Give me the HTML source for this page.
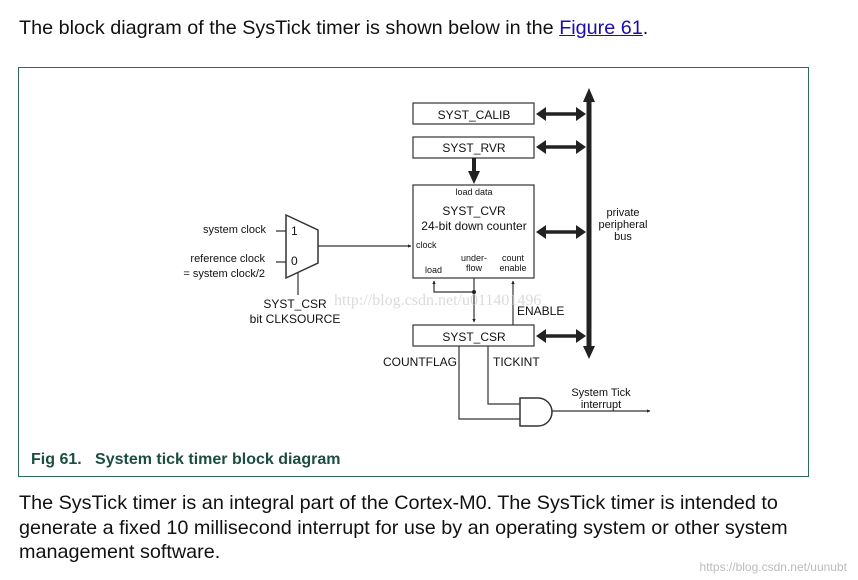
<!DOCTYPE html><html><head><style>
body{margin:0;background:#fff;width:858px;height:580px;overflow:hidden;font-family:"Liberation Sans",sans-serif;}
.t{position:absolute;font-size:19.8px;color:#111;white-space:nowrap;}
</style></head><body>
<div class="t" style="left:19px;top:17px;">The block diagram of the SysTick timer is shown below in the <span style="color:#1a0dab;text-decoration:underline">Figure 61</span>.</div>
<svg width="858" height="580" style="position:absolute;left:0;top:0" font-family="Liberation Sans, sans-serif">
<defs>
<marker id="s" viewBox="0 0 10 10" refX="9" refY="5" markerWidth="3" markerHeight="3" orient="auto-start-reverse"><path d="M0,0L10,5L0,10z" fill="#222"/></marker>
</defs>
<rect x="18.5" y="67.5" width="790" height="409" fill="none" stroke="#2e6b5a" stroke-width="1"/>
<g fill="none" stroke="#333" stroke-width="1.2">
<rect x="413" y="103" width="121" height="21"/>
<rect x="413" y="137" width="121" height="21"/>
<rect x="413" y="185" width="121" height="93"/>
<rect x="413" y="325" width="121" height="21"/>
<path d="M286,215L318,230L318,263L286,278Z" stroke-width="1.5"/>
<path d="M276,231H286M276,262H286M298,272V295"/>
<path d="M318,246H411" marker-end="url(#s)"/>
<path d="M474,278V322" marker-end="url(#s)"/>
<path d="M474,292H434V281" marker-end="url(#s)"/>
<path d="M513,325V281" marker-end="url(#s)"/>
<path d="M459,346V419H520M488,346V404H520"/>
<path d="M520,398H538A14,14 0 0 1 538,426H520Z" stroke-width="1.5"/>
<path d="M552,411H650" marker-end="url(#s)"/>
</g>
<circle cx="474" cy="292" r="2" fill="#222"/>
<path d="M589,102V348" stroke="#222" stroke-width="5"/>
<path d="M583,102L589,88L595,102Z M583,346L589,359L595,346Z" fill="#222"/>
<g stroke="#222" stroke-width="3.5">
<path d="M544,114H578M544,147H578M544,232H578M544,336H578"/>
</g>
<g fill="#222">
<path d="M536,114l10,-7v14z M586,114l-10,-7v14z M536,147l10,-7v14z M586,147l-10,-7v14z M536,232l10,-7v14z M586,232l-10,-7v14z M536,336l10,-7v14z M586,336l-10,-7v14z"/>
</g>
<path d="M474,158V172" stroke="#222" stroke-width="4"/>
<path d="M468,171L474,184L480,171Z" fill="#222"/>
<g font-size="12" fill="#111" text-anchor="middle">
<text x="474" y="119">SYST_CALIB</text>
<text x="474" y="152">SYST_RVR</text>
<text x="474" y="215">SYST_CVR</text>
<text x="474" y="230">24-bit down counter</text>
<text x="474" y="341">SYST_CSR</text>
<text x="295" y="308">SYST_CSR</text>
<text x="295" y="323">bit CLKSOURCE</text>
<text x="623" y="216" font-size="11">private</text>
<text x="623" y="228" font-size="11">peripheral</text>
<text x="623" y="240" font-size="11">bus</text>
<text x="601" y="396" font-size="11">System Tick</text>
<text x="601" y="408" font-size="11">interrupt</text>
</g>
<g font-size="9" fill="#111">
<text x="474" y="195" text-anchor="middle">load data</text>
<text x="416" y="248">clock</text>
<text x="425" y="273">load</text>
<text x="474" y="261" text-anchor="middle">under-</text>
<text x="474" y="271" text-anchor="middle">flow</text>
<text x="513" y="261" text-anchor="middle">count</text>
<text x="513" y="271" text-anchor="middle">enable</text>
</g>
<g font-size="11" fill="#111">
<text x="266" y="233" text-anchor="end">system clock</text>
<text x="265" y="262" text-anchor="end">reference clock</text>
<text x="265" y="277" text-anchor="end">= system clock/2</text>
<text x="291" y="235" font-size="12">1</text>
<text x="291" y="265" font-size="12">0</text>
<text x="517" y="315" font-size="12">ENABLE</text>
<text x="457" y="366" font-size="12" text-anchor="end">COUNTFLAG</text>
<text x="493" y="366" font-size="12">TICKINT</text>
</g>
<text x="31" y="464" font-size="16" font-weight="bold" fill="#1c4d40" xml:space="preserve">Fig 61.   System tick timer block diagram</text>
<text x="334" y="305" font-size="16" fill="#ccc" font-family="Liberation Serif, serif" opacity="0.7">http://blog.csdn.net/u011401496</text>
<text x="847" y="571" font-size="12" fill="#bbb" text-anchor="end">https://blog.csdn.net/uunubt</text>
</svg>
<div class="t" style="left:19px;top:491px;line-height:24.5px;">The SysTick timer is an integral part of the Cortex-M0. The SysTick timer is intended to<br>generate a fixed 10 millisecond interrupt for use by an operating system or other system<br>management software.</div>
</body></html>
